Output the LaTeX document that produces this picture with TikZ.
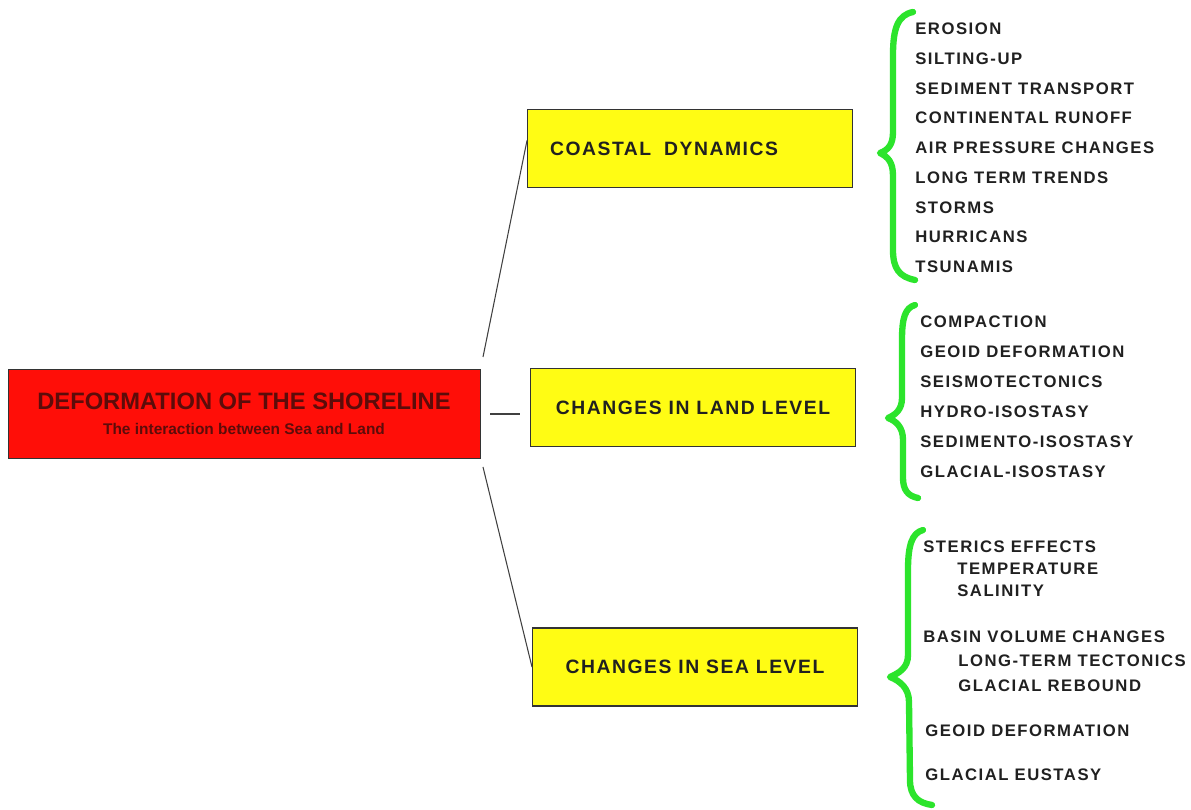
\documentclass[tikz,border=0pt]{standalone}
\usepackage{fontspec}
\setmainfont{Liberation Sans}
\usetikzlibrary{positioning}
\definecolor{shorered}{RGB}{255,14,8}
\definecolor{boxyellow}{RGB}{255,252,20}
\definecolor{bracegreen}{RGB}{44,228,44}
\definecolor{titlered}{RGB}{92,12,10}
\definecolor{inkgray}{RGB}{32,32,32}
\begin{document}
\begin{tikzpicture}[x=0.02cm,y=-0.02cm,
  mainbox/.style={draw=black!80,fill=shorered,text=titlered,minimum width=9.44cm,minimum height=1.78cm,align=center,inner sep=0pt},
  levelbox/.style={draw=black!80,line width=0.6pt,fill=boxyellow,text=inkgray,minimum width=6.5cm,minimum height=1.56cm,font=\bfseries\fontsize{11}{13}\selectfont\addfontfeatures{LetterSpace=8}},
  item/.style={anchor=west,inner sep=0pt,text=inkgray,font=\bfseries\fontsize{9.5}{11}\selectfont\addfontfeatures{LetterSpace=9}},
  curly/.style={draw=bracegreen,line width=3.6pt,line cap=round,line join=round},
  link/.style={draw=black!75,line width=0.6pt}]
  \fill[white] (0,0) rectangle (1191,810);
  \useasboundingbox (0,0) rectangle (1191,810);
  % main box and the three branches
  \node[mainbox] (shore) at (244,414) {{\bfseries\fontsize{13.5}{15}\selectfont DEFORMATION OF THE SHORELINE}\\[2pt]{\bfseries\fontsize{8.8}{10}\selectfont The interaction between Sea and Land}};
  \node[levelbox,text width=5.6cm,inner xsep=0.44cm,align=left] (coast) at (690,148.5) {COASTAL\ \ DYNAMICS};
  \node[levelbox] (land) at (693,407.5) {CHANGES IN LAND LEVEL};
  \node[levelbox] (sea) at (695,667) {CHANGES IN SEA LEVEL};
  \coordinate (upfork) at (483,357);
  \coordinate (lowfork) at (483,467);
  \draw[link] (upfork) -- ([yshift=0.16cm]coast.west);
  \draw[link] ([xshift=0.2cm]shore.east) -- ([xshift=-0.2cm]land.west |- shore.east);
  \draw[link] (lowfork) -- (sea.west);
  % lists
  \foreach \t [count=\i from 0] in {EROSION,SILTING-UP,SEDIMENT TRANSPORT,CONTINENTAL RUNOFF,AIR PRESSURE CHANGES,LONG TERM TRENDS,STORMS,HURRICANS,TSUNAMIS}
    \node[item] (dyn\i) at (915,{29+29.75*\i}) {\t};
  \foreach \t [count=\i from 0] in {COMPACTION,GEOID DEFORMATION,SEISMOTECTONICS,HYDRO-ISOSTASY,SEDIMENTO-ISOSTASY,GLACIAL-ISOSTASY}
    \node[item] (lnd\i) at (920,{322+30*\i}) {\t};
  \node[item] (steric) at (923,547) {STERICS EFFECTS};
  \node[item] (temp) at (957,569) {TEMPERATURE};
  \node[item] (salin) at (957,591) {SALINITY};
  \node[item] (basin) at (923,637) {BASIN VOLUME CHANGES};
  \node[item] (tecto) at (958,661) {LONG-TERM TECTONICS};
  \node[item] (rebound) at (958,686) {GLACIAL REBOUND};
  \node[item] (geoid) at (925,731) {GEOID DEFORMATION};
  \node[item] (eustasy) at (925,775) {GLACIAL EUSTASY};
  % green braces
  \draw[curly] (913,12) .. controls (898,15) and (893,28) .. (893,55) -- (893,132) .. controls (893,145) and (888,150) .. (880,153) .. controls (888,157) and (893,162) .. (893,176) -- (893,250) .. controls (893,268) and (899,277) .. (915,280);
  \draw[curly] (915,305) .. controls (905,308) and (902,318) .. (902,340) -- (902,398) .. controls (902,410) and (895,415) .. (888,418) .. controls (896,421) and (903,427) .. (903,440) -- (903,478) .. controls (903,490) and (908,496) .. (918,498);
  \draw[curly] (923,530) .. controls (912,533) and (908,545) .. (908,570) -- (908,655) .. controls (908,668) and (899,673) .. (890,677) .. controls (900,681) and (909,688) .. (909,702) -- (910,780) .. controls (910,796) and (918,803) .. (932,805);
\end{tikzpicture}
\end{document}
